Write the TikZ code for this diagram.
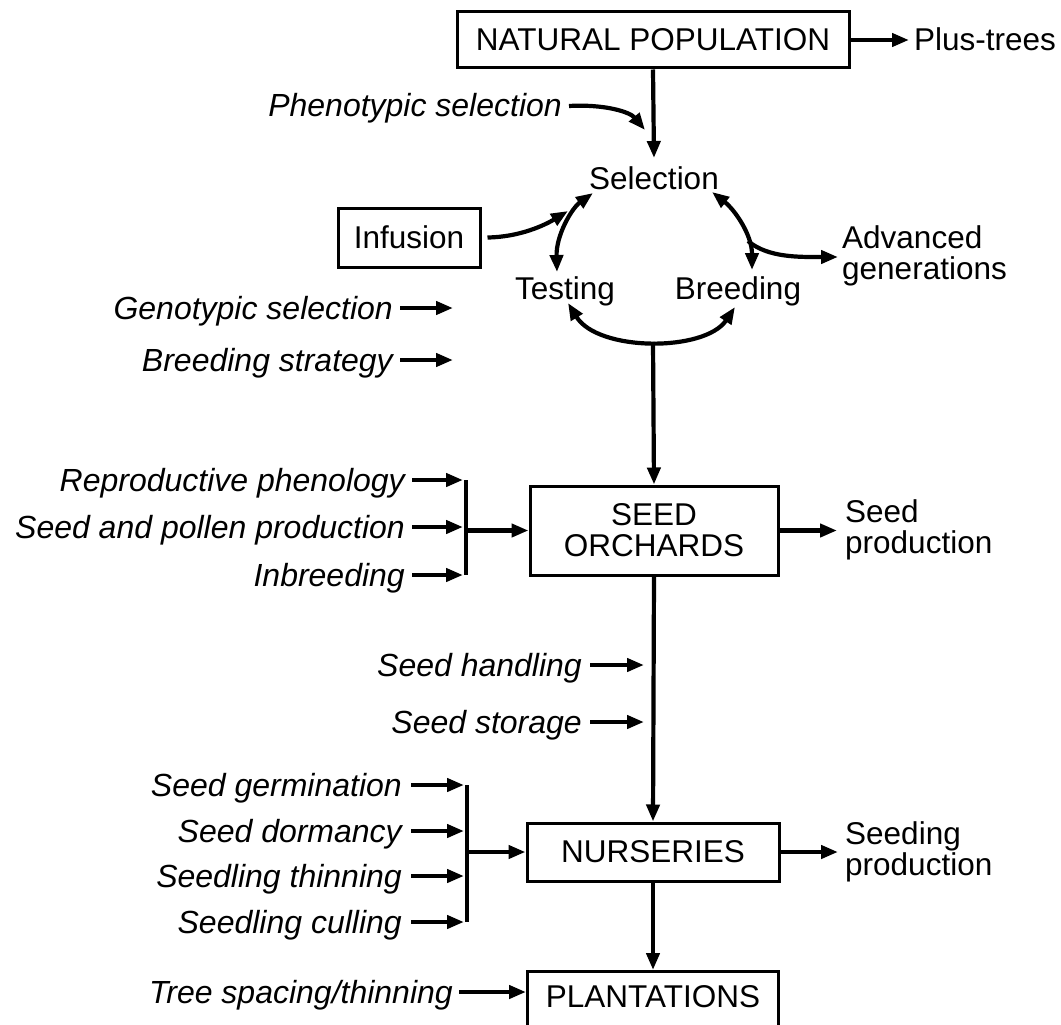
\documentclass[tikz,border=0pt]{standalone}
\usepackage{fontspec}
\setmainfont{Liberation Sans}
\usetikzlibrary{arrows.meta}
\begin{document}
\begin{tikzpicture}[x=1pt,y=-1pt,
  lbl/.style={font=\fontsize{31.5}{30}\selectfont, inner sep=0pt, text height=22pt, text depth=0pt},
  ilbl/.style={font=\fontsize{32}{30}\selectfont\itshape, inner sep=0pt, text height=22pt, text depth=0pt},
  lbltwo/.style={font=\fontsize{31.5}{31}\selectfont, inner sep=0pt, align=left},
  boxn/.style={draw, line width=3pt, inner sep=0pt, align=center, font=\fontsize{31.5}{31}\selectfont},
  ln/.style={line width=4.2pt},
  arr/.style={line width=4.2pt, -{Triangle[length=17pt,width=13pt]}},
  darr/.style={line width=4.2pt, {Triangle[length=17pt,width=13pt]}-{Triangle[length=17pt,width=13pt]}}
]
\useasboundingbox (0,0) rectangle (1061,1025);
\fill[white] (0,0) rectangle (1061,1025);
\clip (0,0) rectangle (1061,1025);

% main boxes
\node[boxn, minimum width=392pt, minimum height=56pt] (natpop) at (653,40) {NATURAL POPULATION};
\node[boxn, minimum width=142pt, minimum height=59pt] (inf) at (409,237.5) {Infusion};
\node[boxn, minimum width=248pt, minimum height=89pt] (orch) at (654,530.5) {SEED\\ORCHARDS};
\node[boxn, minimum width=252pt, minimum height=58pt] (nurs) at (653,852) {NURSERIES};
\node[boxn, anchor=north, minimum width=251pt, inner ysep=14pt, text height=22pt, text depth=50pt] (plant) at (653,970) {PLANTATIONS};

% cycle labels
\node[lbl] (sel) at (654,178) {Selection};
\node[lbl] (test) at (565,288) {Testing};
\node[lbl] (breed) at (738,288) {Breeding};

% right side labels
\node[lbl, anchor=west] (plus) at (914,40) {Plus-trees};
\node[lbltwo, anchor=west] (adv) at (842,256) {Advanced\\generations};
\node[lbltwo, anchor=west] (seedprod) at (845,530) {Seed\\production};
\node[lbltwo, anchor=west] (seedlprod) at (845,852) {Seeding\\production};

% left italic labels
\node[ilbl, anchor=east] (phen) at (562,106) {Phenotypic selection};
\node[ilbl, anchor=east] (geno) at (393,308) {Genotypic selection};
\node[ilbl, anchor=east] (bstrat) at (393,360) {Breeding strategy};
\node[ilbl, anchor=east] (repro) at (405,480) {Reproductive phenology};
\node[ilbl, anchor=east] (pollen) at (405,527) {Seed and pollen production};
\node[ilbl, anchor=east] (inbr) at (405,575) {Inbreeding};
\node[ilbl, anchor=east] (handl) at (582,665) {Seed handling};
\node[ilbl, anchor=east] (stor) at (582,722) {Seed storage};
\node[ilbl, anchor=east] (germ) at (402,785) {Seed germination};
\node[ilbl, anchor=east] (dorm) at (402,831) {Seed dormancy};
\node[ilbl, anchor=east] (thin) at (402,876) {Seedling thinning};
\node[ilbl, anchor=east] (cull) at (402,922) {Seedling culling};
\node[ilbl, anchor=east] (tree) at (453,992) {Tree spacing/thinning};

% coordinates
\coordinate (selIn) at (654,158);
\coordinate (phenEnd) at (645,130);
\coordinate (infEnd) at (568,211);
\coordinate (lTop) at (593,193);
\coordinate (lBot) at (557,272);
\coordinate (rTop) at (712,192);
\coordinate (rBot) at (752,270);
\coordinate (rJ) at (748,241);
\coordinate (advEnd) at (838,257);
\coordinate (bL) at (568,303);
\coordinate (bR) at (735,307);
\coordinate (bMid) at (653,342);
\coordinate (gEnd) at (453,0);
\coordinate (brA) at (466,530.5);
\coordinate (brAin) at (463,0);
\coordinate (brB) at (467,852);
\coordinate (brBin) at (464,0);
\coordinate (hEnd) at (644,0);

% top section
\draw[arr] (natpop.east) -- ([xshift=-5pt]plus.west |- natpop.east);
\draw[arr] (natpop.south) -- (selIn);
\draw[arr] ([xshift=7pt]phen.east) .. controls (605,104) and (630,112) .. (phenEnd);
\draw[arr] ([xshift=6pt]inf.east) .. controls (520,237) and (545,225) .. (infEnd);

% cycle
\draw[darr] (lBot) .. controls (556,235) and (572,208) .. (lTop);
\draw[darr] (rTop) .. controls (735,210) and (752,235) .. (rBot);
\draw[arr] (rJ) .. controls (768,258) and (800,257) .. (advEnd);
\draw[darr] (bL) .. controls (598,352) and (705,352) .. (bR);
\draw[arr] (bMid) -- (orch.north);

\draw[arr] ([xshift=7pt]geno.east) -- (geno.east -| gEnd);
\draw[arr] ([xshift=7pt]bstrat.east) -- (bstrat.east -| gEnd);

% seed orchards inputs
\draw[arr] ([xshift=7pt]repro.east) -- (repro.east -| brAin);
\draw[arr] ([xshift=7pt]pollen.east) -- (pollen.east -| brAin);
\draw[arr] ([xshift=7pt]inbr.east) -- (inbr.east -| brAin);
\draw[ln] (brA |- repro.east) -- (brA |- inbr.east);
\draw[arr] (brA) -- (brA -| orch.west);
\draw[arr] (orch.east) -- ([xshift=-8pt]seedprod.west |- orch.east);

% between orchards and nurseries
\draw[arr] (orch.south) -- (nurs.north);
\draw[arr] ([xshift=8pt]handl.east) -- (handl.east -| hEnd);
\draw[arr] ([xshift=8pt]stor.east) -- (stor.east -| hEnd);

% nurseries inputs
\draw[arr] ([xshift=9pt]germ.east) -- (germ.east -| brBin);
\draw[arr] ([xshift=9pt]dorm.east) -- (dorm.east -| brBin);
\draw[arr] ([xshift=9pt]thin.east) -- (thin.east -| brBin);
\draw[arr] ([xshift=9pt]cull.east) -- (cull.east -| brBin);
\draw[ln] (brB |- germ.east) -- (brB |- cull.east);
\draw[arr] (brB) -- (brB -| nurs.west);
\draw[arr] (nurs.east) -- ([xshift=-7pt]seedlprod.west |- nurs.east);

% plantations
\draw[arr] (nurs.south) -- (plant.north);
\draw[arr] ([xshift=6pt]tree.east) -- (tree.east -| plant.west);
\end{tikzpicture}
\end{document}
